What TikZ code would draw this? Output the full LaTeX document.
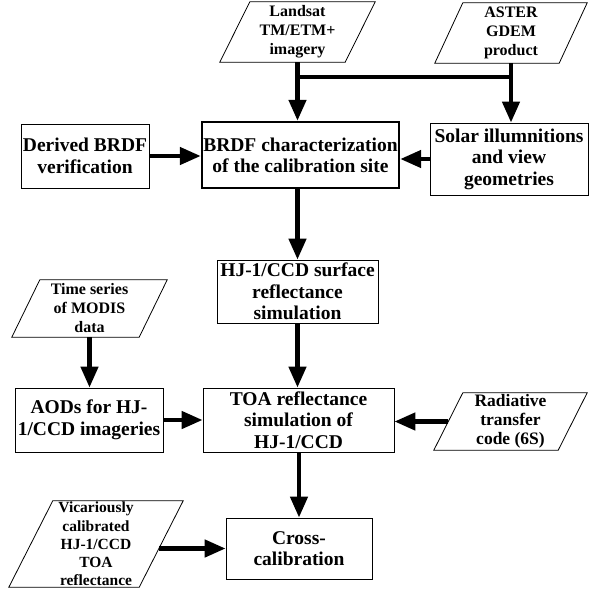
\documentclass[tikz,border=0pt]{standalone}
\usepackage{fontspec}
\setmainfont{Liberation Serif}
\usetikzlibrary{arrows.meta}

\begin{document}
\begin{tikzpicture}[x=1pt, y=-1pt,
    every node/.style={font=\bfseries\fontsize{19.5}{21.5}\selectfont, align=center, inner sep=1pt},
    box/.style={draw, line width=0.8pt},
    mainbox/.style={draw, line width=2.4pt},
    data/.style={font=\bfseries\fontsize{16}{19}\selectfont,
        append after command={\pgfextra{\draw[line width=0.8pt]
            ([xshift=#1]\tikzlastnode.north west) -- (\tikzlastnode.north east)
            -- ([xshift=-#1]\tikzlastnode.south east) -- (\tikzlastnode.south west) -- cycle;}}},
    flow/.style={line width=4.5pt, -{Triangle[length=21pt, width=17pt]}}
]
\useasboundingbox (0,0) rectangle (589,598);

% inputs
\node[data=30, minimum width=155, minimum height=60] (landsat) at (297.5,32) {Landsat\\TM/ETM+\\imagery};
\node[data=28, minimum width=152, minimum height=60] (aster) at (511,33) {ASTER\\GDEM\\product};

% BRDF row
\node[mainbox, minimum width=197, minimum height=66, font=\bfseries\fontsize{19.5}{21}\selectfont] (brdf) at (300.5,155) {BRDF characterization\\of the calibration site};
\node[box, minimum width=128, minimum height=64] (derived) at (85,156) {Derived BRDF\\verification};
\node[box, minimum width=158, minimum height=72] (solar) at (509,159) {Solar illumnitions\\and view\\geometries};

\node[box, minimum width=161, minimum height=63] (surf) at (297.5,291.5) {HJ-1/CCD surface\\reflectance\\simulation};
\node[data=28, minimum width=155, minimum height=57] (modis) at (89.5,308.5) {Time series\\of MODIS\\data};

% TOA row
\node[box, minimum width=148, minimum height=64] (aod) at (89,420) {AODs for HJ-\\1/CCD imageries};
\node[box, minimum width=191, minimum height=64] (toa) at (298.5,420) {TOA reflectance\\simulation of\\HJ-1/CCD};
\node[data=29, minimum width=153, minimum height=57, font=\bfseries\fontsize{17.5}{19}\selectfont] (rtm) at (510.5,421.5) {Radiative\\transfer\\code (6S)};

\node[box, minimum width=146, minimum height=61] (cross) at (299,548.5) {Cross-\\calibration};
\node[data=44, minimum width=174, minimum height=86, font=\bfseries\fontsize{15.5}{18.3}\selectfont] (vical) at (96,544) {Vicariously\\calibrated\\HJ-1/CCD\\TOA\\reflectance};

\coordinate (bar) at (0,77);
\coordinate (rtm out) at ([xshift=14.5]rtm.west);
\coordinate (vical out) at ([xshift=-24]vical.east);

\draw[line width=4.5pt] (landsat.south |- bar) -- (aster.south |- bar);
\draw[flow] (landsat.south) -- (landsat.south |- brdf.north);
\draw[flow] (aster.south) -- (aster.south |- solar.north);
\draw[flow] (derived.east) -- (derived.east -| brdf.west);
\draw[flow] (solar.west) -- (solar.west -| brdf.east);
\draw[flow] (surf.north |- brdf.south) -- (surf.north);
\draw[flow] (modis.south) -- (modis.south |- aod.north);
\draw[flow] (surf.south) -- (surf.south |- toa.north);
\draw[flow] (aod.east) -- (aod.east -| toa.west);
\draw[flow] (rtm out) -- (rtm out -| toa.east);
\draw[flow] (toa.south -| cross.north) -- (cross.north);
\draw[flow] (vical out |- cross.west) -- (cross.west);

\end{tikzpicture}
\end{document}
